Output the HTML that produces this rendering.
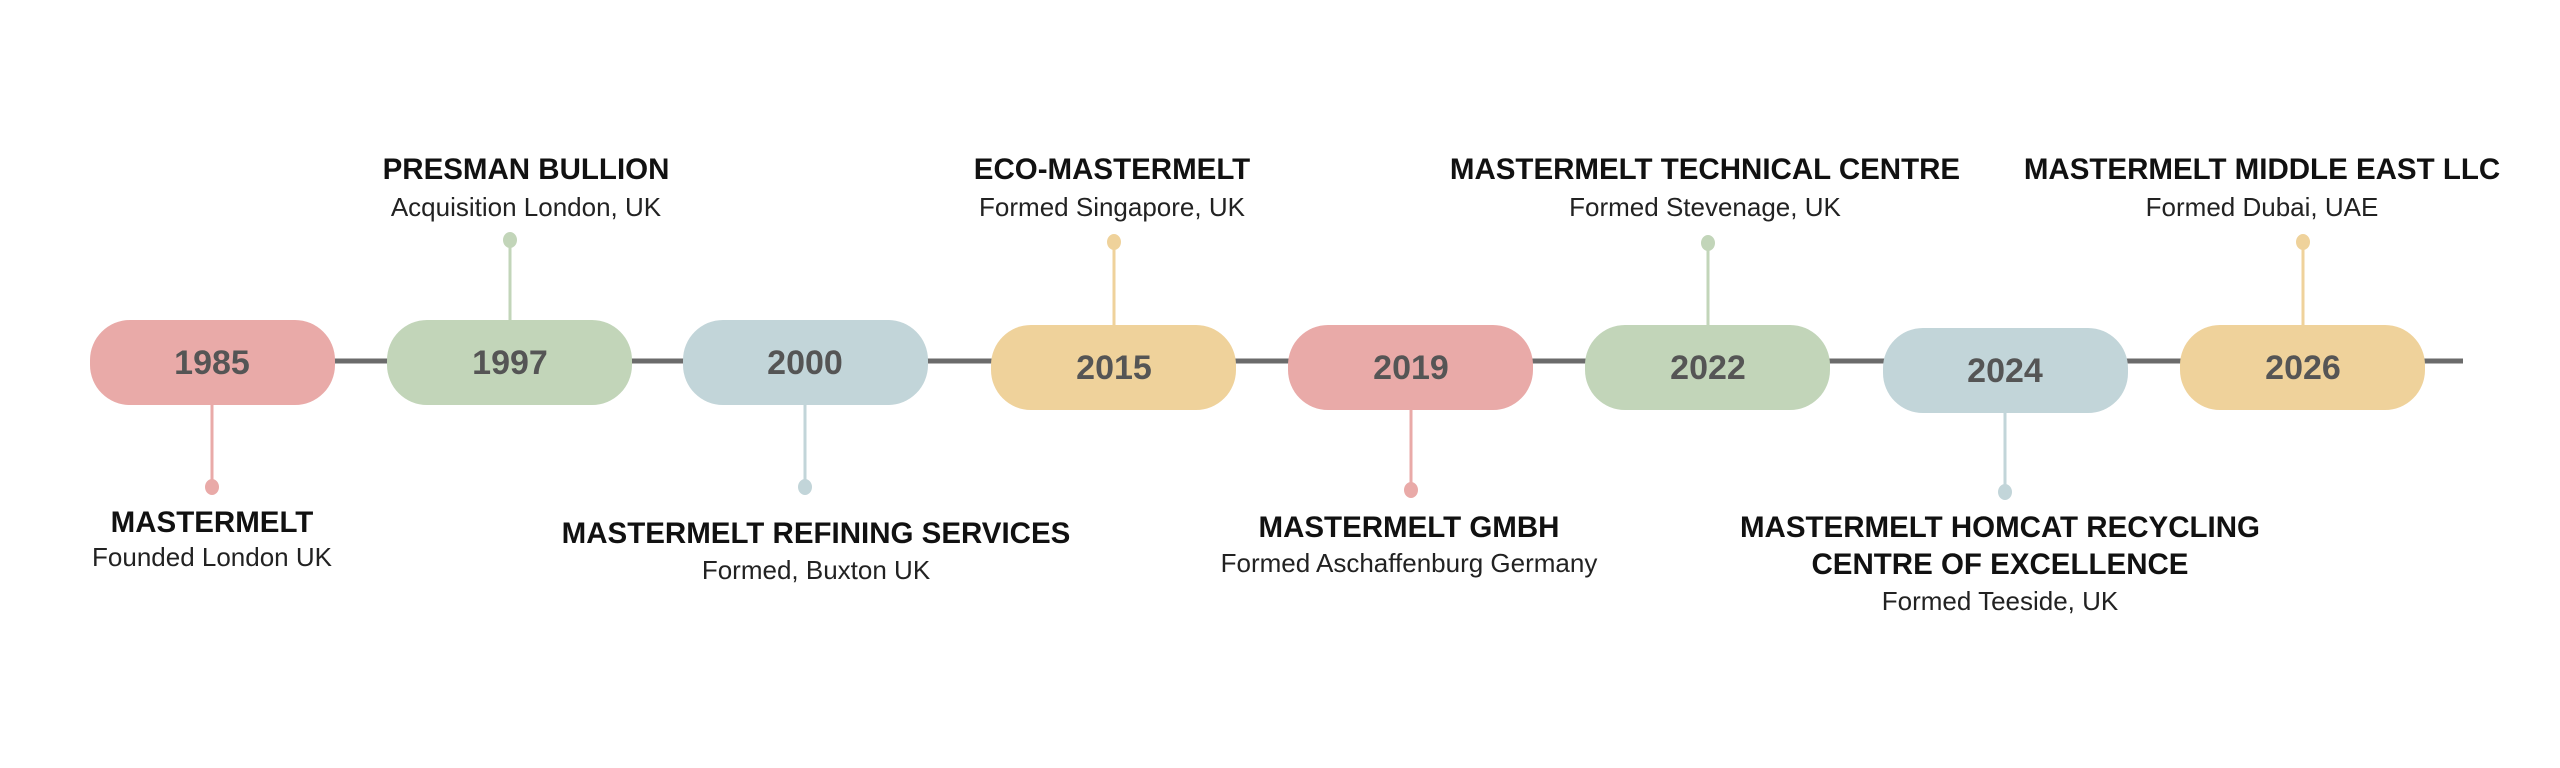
<!DOCTYPE html>
<html><head><meta charset="utf-8"><style>
html,body{margin:0;padding:0;background:#fff;}
svg{display:block;}
.y{font-family:"Liberation Sans",sans-serif;font-weight:bold;font-size:34px;fill:#555;}
.t{font-family:"Liberation Sans",sans-serif;font-weight:bold;font-size:29.5px;fill:#111;}
.s{font-family:"Liberation Sans",sans-serif;font-size:26px;fill:#222;}
</style></head><body>
<svg width="2560" height="768" viewBox="0 0 2560 768" xmlns="http://www.w3.org/2000/svg">
<line x1="300" y1="361" x2="2463" y2="361" stroke="#6b6b6b" stroke-width="5"/>
<g stroke-width="3">
<line x1="212" y1="400" x2="212" y2="487" stroke="#e9aaa8"/>
<line x1="510" y1="240" x2="510" y2="330" stroke="#c2d5b9"/>
<line x1="805" y1="400" x2="805" y2="487" stroke="#c2d5d9"/>
<line x1="1114" y1="242" x2="1114" y2="335" stroke="#efd29b"/>
<line x1="1411" y1="400" x2="1411" y2="490" stroke="#e9aaa8"/>
<line x1="1708" y1="243" x2="1708" y2="335" stroke="#c2d5b9"/>
<line x1="2005" y1="400" x2="2005" y2="492" stroke="#c2d5d9"/>
<line x1="2303" y1="242" x2="2303" y2="335" stroke="#efd29b"/>
</g>
<ellipse cx="212" cy="487" rx="7" ry="8" fill="#e9aaa8"/>
<ellipse cx="510" cy="240" rx="7" ry="8" fill="#c2d5b9"/>
<ellipse cx="805" cy="487" rx="7" ry="8" fill="#c2d5d9"/>
<ellipse cx="1114" cy="242" rx="7" ry="8" fill="#efd29b"/>
<ellipse cx="1411" cy="490" rx="7" ry="8" fill="#e9aaa8"/>
<ellipse cx="1708" cy="243" rx="7" ry="8" fill="#c2d5b9"/>
<ellipse cx="2005" cy="492" rx="7" ry="8" fill="#c2d5d9"/>
<ellipse cx="2303" cy="242" rx="7" ry="8" fill="#efd29b"/>
<rect x="90" y="320" width="245" height="85" rx="40" fill="#e9aaa8"/>
<rect x="387" y="320" width="245" height="85" rx="40" fill="#c2d5b9"/>
<rect x="683" y="320" width="245" height="85" rx="40" fill="#c2d5d9"/>
<rect x="991" y="325" width="245" height="85" rx="40" fill="#efd29b"/>
<rect x="1288" y="325" width="245" height="85" rx="40" fill="#e9aaa8"/>
<rect x="1585" y="325" width="245" height="85" rx="40" fill="#c2d5b9"/>
<rect x="1883" y="328" width="245" height="85" rx="40" fill="#c2d5d9"/>
<rect x="2180" y="325" width="245" height="85" rx="40" fill="#efd29b"/>
<g class="y" text-anchor="middle">
<text x="212" y="374">1985</text>
<text x="510" y="374">1997</text>
<text x="805" y="374">2000</text>
<text x="1114" y="379">2015</text>
<text x="1411" y="379">2019</text>
<text x="1708" y="379">2022</text>
<text x="2005" y="382">2024</text>
<text x="2303" y="379">2026</text>
</g>
<g text-anchor="middle">
<text class="t" x="526" y="179">PRESMAN BULLION</text>
<text class="s" x="526" y="216">Acquisition London, UK</text>
<text class="t" x="1112" y="179">ECO-MASTERMELT</text>
<text class="s" x="1112" y="216">Formed Singapore, UK</text>
<text class="t" x="1705" y="179">MASTERMELT TECHNICAL CENTRE</text>
<text class="s" x="1705" y="216">Formed Stevenage, UK</text>
<text class="t" x="2262" y="179">MASTERMELT MIDDLE EAST LLC</text>
<text class="s" x="2262" y="216">Formed Dubai, UAE</text>
<text class="t" x="212" y="532">MASTERMELT</text>
<text class="s" x="212" y="566">Founded London UK</text>
<text class="t" x="816" y="543">MASTERMELT REFINING SERVICES</text>
<text class="s" x="816" y="579">Formed, Buxton UK</text>
<text class="t" x="1409" y="537">MASTERMELT GMBH</text>
<text class="s" x="1409" y="572">Formed Aschaffenburg Germany</text>
<text class="t" x="2000" y="537">MASTERMELT HOMCAT RECYCLING</text>
<text class="t" x="2000" y="574">CENTRE OF EXCELLENCE</text>
<text class="s" x="2000" y="610">Formed Teeside, UK</text>
</g>
</svg>
</body></html>
